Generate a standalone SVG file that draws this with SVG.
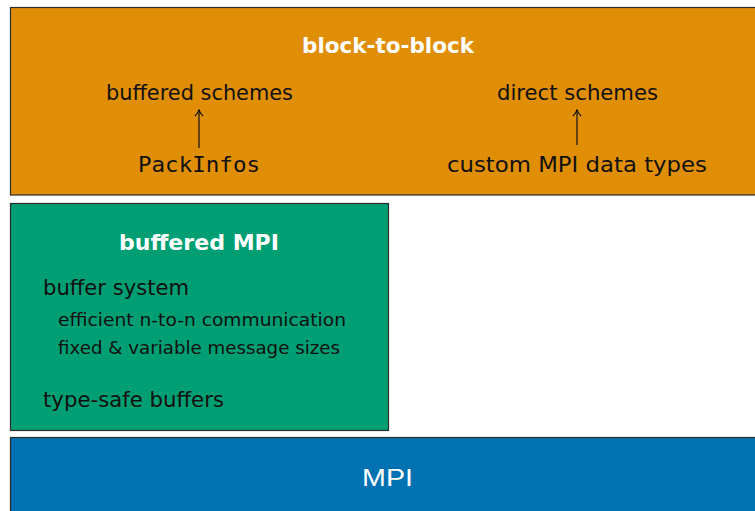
<svg xmlns="http://www.w3.org/2000/svg" width="755" height="511" viewBox="0 0 755 511">
<style>
.box{stroke:#2b2b2b;stroke-width:1.2}
.t{font-family:"DejaVu Sans","Liberation Sans",sans-serif;fill:#111}
.h{font-family:"DejaVu Sans","Liberation Sans",sans-serif;fill:#fff;font-weight:bold;font-size:22px;text-anchor:middle}
.m{font-family:"DejaVu Sans Mono","Liberation Mono",monospace;fill:#111}
.c{stroke:#111;stroke-width:1.2;fill:none}
</style>
<defs>
<marker id="arr" viewBox="0 0 10 10" refX="9" refY="5" markerWidth="10" markerHeight="10" markerUnits="userSpaceOnUse" orient="auto">
<path d="M3,1 Q6,4 9,5 Q6,6 3,9" fill="none" stroke="#111" stroke-width="1.1"/>
</marker>
</defs>
<rect width="755" height="511" fill="#fff"/>
<g id="block-to-block">
<rect class="box" x="10.5" y="7.5" width="750" height="187.5" fill="#DF8E05"/>
<text class="h" x="388" y="53" textLength="172" lengthAdjust="spacingAndGlyphs">block-to-block</text>
</g>
<g id="buffered-schemes"><text class="t" x="199.5" y="100" font-size="22" text-anchor="middle" textLength="187" lengthAdjust="spacingAndGlyphs">buffered schemes</text></g>
<g id="direct-schemes"><text class="t" x="577.5" y="100" font-size="22" text-anchor="middle" textLength="161" lengthAdjust="spacingAndGlyphs">direct schemes</text></g>
<g id="packinfos"><text class="m" x="199" y="172" font-size="21" text-anchor="middle" textLength="122" lengthAdjust="spacingAndGlyphs">PackInfos</text></g>
<g id="custom-mpi"><text class="t" x="577" y="172" font-size="22" text-anchor="middle" textLength="260" lengthAdjust="spacingAndGlyphs">custom MPI data types</text></g>
<g id="buffered-mpi">
<rect class="box" x="10.5" y="203.5" width="378" height="227" fill="#009E73"/>
<text class="h" x="199" y="250" textLength="160" lengthAdjust="spacingAndGlyphs">buffered MPI</text>
<text class="t" x="43" y="295" font-size="21" textLength="146" lengthAdjust="spacingAndGlyphs">buffer system</text>
<text class="t" x="58" y="326" font-size="17" textLength="288" lengthAdjust="spacingAndGlyphs">efficient n-to-n communication</text>
<text class="t" x="58" y="354" font-size="17" textLength="282" lengthAdjust="spacingAndGlyphs">fixed &amp; variable message sizes</text>
<text class="t" x="43" y="407" font-size="21" textLength="181" lengthAdjust="spacingAndGlyphs">type-safe buffers</text>
</g>
<g id="mpi">
<rect class="box" x="10.5" y="437.5" width="750" height="80" fill="#0072B2"/>
<text x="387.5" y="486" font-family="Liberation Sans,DejaVu Sans,sans-serif" font-size="23" fill="#fff" text-anchor="middle" textLength="51" lengthAdjust="spacingAndGlyphs">MPI</text>
</g>
<g id="connectors">
<line class="c" x1="199" y1="148" x2="199" y2="110" marker-end="url(#arr)"/>
<line class="c" x1="577" y1="145" x2="577" y2="110" marker-end="url(#arr)"/>
</g>
</svg>
